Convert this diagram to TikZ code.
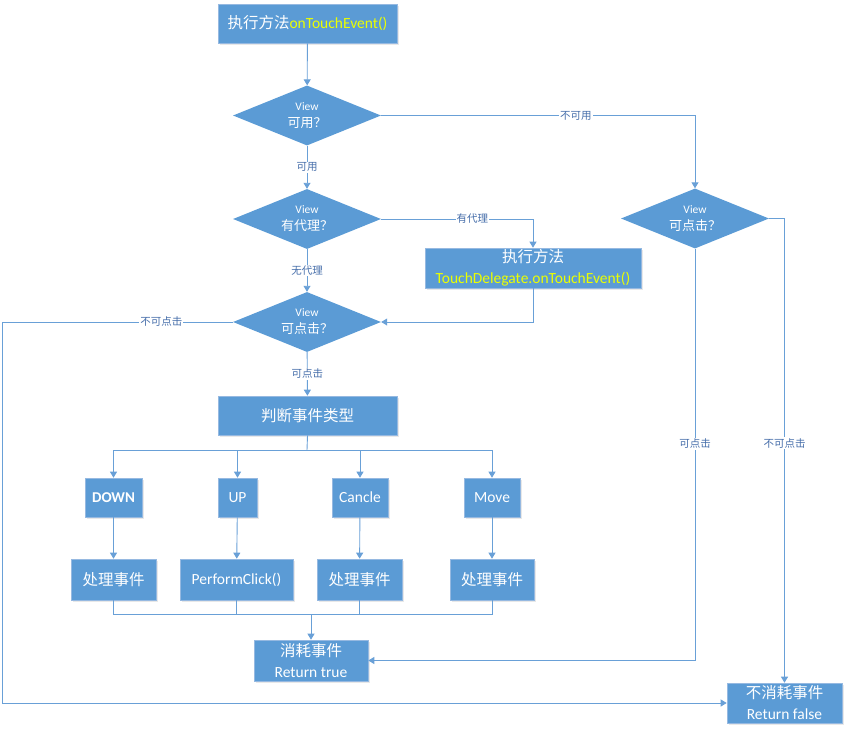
\documentclass[tikz,border=0pt]{standalone}
\usepackage{fontspec}
\setmainfont{Carlito}
\newfontfamily\cjk{Noto Sans CJK SC}
\usetikzlibrary{shapes.geometric,arrows.meta,shadows}
\definecolor{fillblue}{RGB}{91,155,213}
\definecolor{edgeblue}{RGB}{150,185,225}
\definecolor{lineblue}{RGB}{105,160,215}
\definecolor{lblblue}{RGB}{70,110,170}
\definecolor{codeyel}{RGB}{235,255,0}
\newcommand\zh[1]{{\cjk #1}}
\tikzset{
  box/.style={rectangle, fill=fillblue, draw=edgeblue, line width=0.6pt, text=white,
    inner sep=0pt, align=center, font=\fontsize{15.5}{21}\selectfont,
    drop shadow={opacity=0.18, shadow xshift=1.5pt, shadow yshift=-1.5pt}},
  dia/.style={diamond, fill=fillblue, draw=none, inner sep=0pt,
    minimum width=148pt, minimum height=60pt,
    label={[text=white, align=center, inner sep=0pt, font=\fontsize{11.5}{17}\selectfont]center:#1}},
  ln/.style={draw=lineblue, line width=0.9pt},
  arr/.style={ln, -{Triangle[width=7pt,length=6pt]}},
  lbl/.style={fill=white, text=lblblue, inner sep=1pt, font=\fontsize{10.5}{12}\selectfont},
}
\newcommand\dq[1]{{\fontsize{13}{17}\selectfont\zh{#1}}}
\begin{document}
\begin{tikzpicture}[x=1pt,y=-1pt]
\useasboundingbox (0,0) rectangle (848,731);
% nodes
\node[box, minimum width=179pt, minimum height=39pt] (top) at (307.5,23.5)
  {\zh{执行方法}\textcolor{codeyel}{onTouchEvent()}};
\node[dia={View\\\dq{可用？}}] (d1) at (307,115.5) {};
\node[dia={View\\\dq{有代理？}}] (d2) at (307,219) {};
\node[dia={View\\\dq{可点击？}}] (d3) at (307,322) {};
\node[dia={View\\\dq{可点击？}}] (d4) at (695,218.5) {};
\node[box, minimum width=216pt, minimum height=40pt] (td) at (533,268)
  {\zh{执行方法}\\\textcolor{codeyel}{TouchDelegate.onTouchEvent()}};
\node[box, minimum width=179pt, minimum height=39pt] (judge) at (307.5,415.5) {\zh{判断事件类型}};
\node[box, minimum width=57pt, minimum height=39pt, font=\fontsize{15}{18}\selectfont\bfseries] (down) at (113.5,497.5) {DOWN};
\node[box, minimum width=39pt, minimum height=39pt] (up) at (237.5,497.5) {UP};
\node[box, minimum width=56pt, minimum height=39pt] (cancle) at (360,497.5) {Cancle};
\node[box, minimum width=56pt, minimum height=39pt] (move) at (492,497.5) {Move};
\node[box, minimum width=85pt, minimum height=41pt] (p1) at (113.5,579.5) {\zh{处理事件}};
\node[box, minimum width=113pt, minimum height=41pt] (p2) at (236.5,579.5) {PerformClick()};
\node[box, minimum width=85pt, minimum height=41pt] (p3) at (359.5,579.5) {\zh{处理事件}};
\node[box, minimum width=84pt, minimum height=41pt] (p4) at (492,579.5) {\zh{处理事件}};
\node[box, minimum width=114pt, minimum height=41pt] (ct) at (311,660.5)
  {\zh{消耗事件}\\Return true};
\node[box, minimum width=115pt, minimum height=40pt] (nf) at (784.5,703)
  {\zh{不消耗事件}\\Return false};
% coordinates
\coordinate (lft) at (2,322);
\coordinate (br) at (307,450);
\coordinate (mg) at (311,614);
% connectors
\draw[arr] (top) -- (d1);
\draw[arr] (d1) -- node[lbl]{\zh{可用}} (d2);
\draw[arr] (d2) -- node[lbl]{\zh{无代理}} (d3);
\draw[arr] (d3) -- node[lbl]{\zh{可点击}} (judge);
\draw[arr] (d1.east) -| node[lbl, pos=0.31]{\zh{不可用}} (d4.north);
\draw[arr] (d2.east) -| node[lbl, pos=0.3]{\zh{有代理}} (td.north);
\draw[arr] (td.south) |- (d3.east);
\draw[arr] (d3.west) -- node[lbl, pos=0.31]{\zh{不可点击}} (lft) |- (nf.west);
\draw[arr] (d4.south) |- node[lbl, pos=0.237]{\zh{可点击}} (ct.east);
\draw[arr] (d4.east) -| node[lbl, pos=0.742]{\zh{不可点击}} (nf.north);
\draw[ln] (judge.south) -- (br);
\draw[arr] (br) -| (down.north);
\draw[arr] (br) -| (up.north);
\draw[arr] (br) -| (cancle.north);
\draw[arr] (br) -| (move.north);
\draw[arr] (down) -- (p1);
\draw[arr] (up) -- (p2);
\draw[arr] (cancle) -- (p3);
\draw[arr] (move) -- (p4);
\draw[ln] (p1.south) |- (mg);
\draw[ln] (p2.south) |- (mg);
\draw[ln] (p3.south) |- (mg);
\draw[ln] (p4.south) |- (mg);
\draw[arr] (mg) -- (ct.north);
\end{tikzpicture}
\end{document}
